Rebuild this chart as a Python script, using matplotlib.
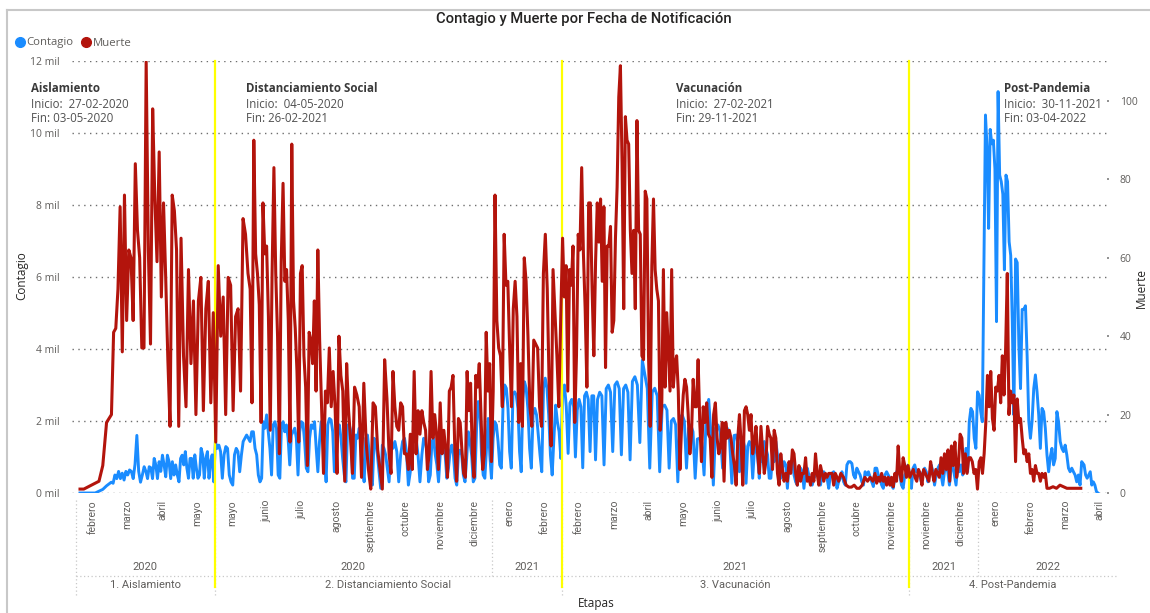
import numpy as np
import matplotlib
matplotlib.use("Agg")
import matplotlib.pyplot as plt
from matplotlib.lines import Line2D
from matplotlib.transforms import blended_transform_factory

plt.rcParams['font.family'] = ['Open Sans', 'DejaVu Sans']

# ---------------- categories (one band per etapa / year / month) ----------------
etapas = ["1. Aislamiento", "2. Distanciamiento Social", "3. Vacunación", "4. Post-Pandemia"]
band_etapa = [0] * 4 + [1] * 10 + [2] * 10 + [3] * 6
band_year = [2020] * 4 + [2020] * 8 + [2021] * 2 + [2021] * 10 + [2021] * 2 + [2022] * 4
band_month = ["febrero", "marzo", "abril", "mayo",
              "mayo", "junio", "julio", "agosto", "septiembre", "octubre", "noviembre",
              "diciembre", "enero", "febrero",
              "febrero", "marzo", "abril", "mayo", "junio", "julio", "agosto",
              "septiembre", "octubre", "noviembre",
              "noviembre", "diciembre", "enero", "febrero", "marzo", "abril"]

etapa_titles = ["Aislamiento", "Distanciamiento Social", "Vacunación", "Post-Pandemia"]
etapa_inicio = ["27-02-2020", "04-05-2020", "27-02-2021", "30-11-2021"]
etapa_fin = ["03-05-2020", "26-02-2021", "29-11-2021", "03-04-2022"]

# ---------------- Muerte (daily deaths, read per month band) ----------------
muerte_aislamiento = [
    [1, 1, 1.5, 2, 2.5, 3, 7, 18],
    [20, 41, 42, 52, 73, 36, 76, 44, 62, 60, 44, 84, 67, 60, 37, 37],
    [110, 62, 38, 98, 75, 59, 87, 50, 74, 55, 34, 17, 76, 72, 62, 17],
    [65, 35, 22, 57, 33, 49, 20, 49, 55, 21, 47, 54, 23, 46],
]
muerte_distanciamiento = [
    [13, 58, 40, 50, 20, 55, 53, 21, 45, 47, 26, 70, 66, 56],
    [52, 23, 90, 61, 56, 48, 18, 74, 61, 63, 45, 16, 56, 83, 56, 40, 10, 59, 79],
    [54, 57, 44, 13, 89, 49, 42, 31, 13, 56, 58, 35, 27, 7, 41, 39, 33, 49, 26, 62],
    [39, 22, 5, 26, 23, 37, 22, 31, 22, 5, 40, 30, 26, 3, 33, 21, 14, 5],
    [27, 25, 22, 4, 28, 13, 6, 1, 23, 22, 11, 6, 1, 34, 24],
    [10, 5, 31, 22, 17, 16, 23, 22, 10, 10, 6, 15, 6, 31, 10, 21, 15, 21],
    [18, 16, 6, 10, 31, 14, 20, 15, 6, 23, 10, 16, 11, 4, 26, 27, 30, 11, 3],
    [19, 18, 11, 5, 4, 31, 21, 28, 10, 4, 30, 27, 33, 20, 6, 10, 41, 26, 33, 8],
    [26, 76, 44, 37, 35, 22, 66, 53, 54, 37, 22, 47, 54, 45, 18, 33, 17, 60, 54],
    [40, 22, 17, 39, 38, 37, 22, 17, 56, 66, 52, 27, 12, 57, 46, 35, 22, 45],
]
muerte_vacunacion = [
    [65, 50, 58, 26, 57, 53, 63, 18, 35, 66, 62, 83, 61, 47, 27, 74, 74, 52, 35, 59],
    [74, 64, 75, 54, 73, 32, 63, 63, 68, 41, 44, 65, 78, 101, 109, 84, 47, 96, 90, 89, 67],
    [56, 67, 47, 95, 67, 66, 35, 34, 77, 75, 35, 17, 58, 75, 57, 52, 49, 16, 22, 57, 27],
    [46, 36, 26, 57, 27, 33, 35, 26, 6, 17, 25, 29, 27, 20, 10, 15, 29, 22, 22, 34, 18],
    [8, 22, 18, 23, 15, 14, 4, 20, 23, 14, 10, 12, 18, 3, 18, 14, 16, 14, 10, 7],
    [2, 14, 20, 13, 2, 21, 22, 20, 16, 20, 10, 13, 17, 10, 5, 17, 11, 5, 8, 17, 15],
    [14, 6, 16, 14, 5, 2, 10, 6, 3, 5, 3, 8, 5, 11, 10, 5, 2, 7, 3, 5, 5],
    [9, 3, 4, 2, 5, 3, 10, 5, 2, 7, 5, 3, 5, 4, 5, 5, 5, 2, 5, 4, 3],
    [5, 4, 2, 1.5, 1.5, 2, 1.2, 1.2, 2, 4, 3, 4, 3],
    [5, 2.5, 4, 3, 5, 3, 4, 2, 4, 2, 4, 1.6, 5, 3, 12, 5, 3, 9, 7, 4, 7],
]
muerte_post = [
    [4, 5, 6, 4, 3, 6, 5, 2, 6, 5, 4, 3, 8, 5, 3, 6, 5, 4, 9, 5],
    [10, 6, 11, 3, 12, 7, 13, 4, 7, 15, 14, 5, 10, 5, 9, 9, 8, 5, 6, 1],
    [8, 9, 5, 10, 18, 30, 22, 31, 19, 16, 27, 26, 30, 23, 35, 25, 37, 56, 20, 26, 23],
    [25, 8, 24, 18, 19, 14, 10, 11, 8, 10, 5, 6, 3, 7, 5, 5, 3, 5, 4, 5, 1.2],
    [1.2, 1.6, 1.2, 2, 1.6, 1.2, 1.2, 1.2, 1.2, 1.2],
    [],
]

# ---------------- Contagio (daily cases, thousands, read per month band) ----------------
contagio_aislamiento = [
    [0, 0, 0, 0, 0, 0.05, 0.1, 0.2],
    [0.3, 0.27, 0.5, 0.4, 0.6, 0.4, 0.55, 0.36, 0.6, 0.5, 0.64, 0.6, 0.4, 0.8, 1.6, 0.6, 0.3, 0.5, 0.73],
    [0.6, 0.4, 0.73, 0.7, 0.4, 0.96, 0.78, 0.4, 0.87, 0.6, 1.05, 0.78, 0.45, 1.05, 0.87, 0.4, 0.87, 0.5, 0.78, 0.5, 0.31],
    [0.96, 1.05, 0.78, 1.15, 0.69, 0.41, 0.96, 0.96, 0.41, 1.06, 0.69, 0.41, 0.5, 1.24, 1.06, 0.41, 0.96, 1.15, 0.41, 0.87, 1.06, 0.31],
]
contagio_distanciamiento = [
    [1.43, 1.24, 1.33, 1.15, 0.41, 1.06, 1.29, 1.24, 0.5, 0.31, 0.22, 1.06, 1.24, 1.15, 0.59, 1.06, 1.43, 1.52, 1.61, 1.52],
    [1.43, 1.7, 1.7, 1.24, 1.06, 0.5, 0.31, 0.41, 1.98, 1.8, 2.17, 1.7, 1.24, 0.5, 1.89, 1.98, 1.8, 0.5, 0.41, 1.89, 1.98],
    [1.7, 1.89, 1.52, 0.78, 1.61, 1.7, 1.8, 1.52, 0.5, 1.7, 1.98, 1.94, 1.43, 0.69, 0.59, 1.52, 1.89, 1.8, 1.98, 1.24, 0.59],
    [1.43, 1.98, 1.89, 0.96, 0.31, 1.89, 2.07, 2.03, 1.7, 0.59, 0.78, 1.8, 1.89, 1.52, 0.96, 0.5, 0.31, 1.89, 1.89, 1.7, 0.41],
    [0.41, 1.61, 1.52, 1.8, 1.61, 0.69, 0.31, 1.52, 1.61, 1.15, 0.31, 0.22, 1.52, 1.43, 1.06, 0.59, 0.13, 1.33, 1.24, 1.06, 0.69],
    [0.31, 1.33, 1.24, 1.43, 1.15, 0.31, 1.06, 1.43, 1.52, 1.15, 0.22, 0.59, 1.43, 1.61, 1.52, 1.06, 0.31, 1.06],
    [1.52, 1.43, 1.15, 0.31, 0.5, 1.43, 1.52, 1.06, 0.78, 0.31, 1.06, 1.33, 1.24, 1.06, 0.41, 0.69, 1.15, 1.33, 1.06, 0.41, 0.22],
    [1.06, 1.19, 1.06, 0.5, 0.31, 0.96, 1.7, 1.43, 1.06, 0.31, 0.41, 1.8, 2.54, 2.35, 1.06, 0.5, 0.41, 1.24, 2.07, 1.06, 0.41],
    [1.52, 1.98, 1.89, 1.43, 0.78, 0.69, 2.44, 3.0, 2.91, 2.35, 1.15, 0.69, 2.72, 2.81, 2.72, 2.35, 1.15, 0.59, 2.63, 3.09, 2.91],
    [2.35, 1.24, 0.69, 2.17, 2.35, 2.17, 1.61, 1.06, 0.59, 2.91, 3.19, 2.91, 2.17, 1.06, 0.5, 1.52, 2.44, 1.98, 1.7, 0.96],
]
contagio_vacunacion = [
    [2.9, 3.0, 2.4, 1.1, 2.5, 2.6, 2.4, 1.0, 2.3, 2.6, 2.4, 0.7, 2.7, 2.8, 2.6, 1.15, 2.7, 2.7, 0.92],
    [2.6, 2.8, 2.7, 0.78, 2.9, 3.0, 2.8, 1.15, 3.0, 3.09, 2.9, 1.06, 2.9, 3.0, 2.8, 0.92],
    [3.1, 3.23, 3.0, 1.4, 3.69, 3.3, 2.9, 0.69, 2.8, 2.91, 2.7, 0.59, 2.4, 2.44],
    [2.3, 0.69, 2.0, 2.07, 1.9, 0.31, 2.1, 2.17, 2.0, 0.69, 1.8, 1.89, 1.7, 0.41, 1.5, 1.52],
    [1.4, 0.5, 2.3, 2.6, 1.6, 0.22, 1.8, 1.89, 1.7, 0.69, 1.7, 1.8, 1.5, 0.27, 1.6],
    [1.61, 1.4, 0.59, 1.5, 1.52, 1.3, 0.27, 1.3, 1.43, 1.3, 0.41, 1.15, 1.43, 1.0, 0.41, 1.24, 0.87, 1.43, 1.24, 1.06, 0.41],
    [0.41, 1.06, 0.87, 1.43, 1.06, 0.69, 0.41, 0.69, 0.87, 0.78, 0.13, 0.78, 0.69, 0.96, 0.5, 0.31, 0.22, 0.59, 0.69, 0.59, 0.13],
    [0.59, 0.69, 0.5, 0.27, 0.22, 0.41, 0.5, 0.59, 0.5, 0.22, 0.5, 0.59, 0.5, 0.41, 0.13, 0.5, 0.55, 0.59, 0.5, 0.13, 0.31],
    [0.41, 0.59, 0.31, 0.22, 0.78, 0.87, 0.87, 0.82, 0.5, 0.41, 0.69, 0.59, 0.5, 0.31, 0.22, 0.59, 0.5, 0.59, 0.45, 0.31, 0.18],
    [0.69, 0.69, 0.5, 0.41, 0.22, 0.13, 0.5, 0.59, 0.5, 0.41, 0.22, 0.13, 0.41, 0.59, 0.59, 0.5, 0.22, 0.13, 0.5, 0.59, 0.78],
]
contagio_post = [
    [0.5, 0.13, 0.69, 0.78, 0.59, 0.59, 0.5, 0.31, 0.59, 0.69, 0.59, 0.31, 0.5, 0.78, 0.59, 0.22, 0.5, 0.69, 0.78, 0.5, 0.22],
    [0.59, 0.78, 0.59, 0.22, 0.69, 0.78, 0.5, 0.22, 0.78, 0.59, 0.78, 0.5, 0.69, 1.24, 0.59, 1.98, 2.35, 2.26, 1.52, 1.24, 2.81],
    [2.72, 2.26, 1.98, 6.15, 10.5, 9.6, 7.35, 10.1, 9.7, 9.8, 9.0, 4.76, 11.15, 8.83, 8.65, 8.3, 6.2, 8.83, 8.65, 6.98, 6.6, 4.76],
    [2.17, 6.5, 6.4, 4.1, 2.9, 5.1, 5.1, 5.2, 3.8, 2.0, 1.52, 2.0, 2.9, 3.28, 2.81, 2.17, 1.24, 2.35, 2.26, 1.8, 1.06],
    [0.59, 1.0, 1.24, 0.78, 0.96, 2.26, 1.98, 1.43, 1.24, 1.15, 1.33, 1.06, 0.69, 0.59, 0.69, 0.59, 0.5, 0.31, 0.5, 0.22, 0.87],
    [0.78, 0.5, 0.41, 0.5, 0.59, 0.22, 0.31, 0.22, 0.04, 0.0],
]

# ---------------- layout constants ----------------
W, H, DPI = 1150, 613, 100
BLUE = "#1A8CFF"
RED = "#B3140C"
YELLOW = "#FFFF00"
GRAY = "#605E5C"
DARK = "#252423"
SEP = "#C8C8C8"
DATA_START = -0.374   # first notification lies a little inside the first band
DATA_END = 28.945     # last notification lies inside the last band
DIN = ['Roboto', 'DejaVu Sans']


def fx(px):
    return px / W


def fy(py):
    return 1 - py / H


def build(bands, start=None, end=None):
    xs, ys = [], []
    last = max(i for i, b in enumerate(bands) if len(b))
    for i, vals in enumerate(bands):
        n = len(vals)
        if n == 0:
            continue
        if i == 0 and start is not None:
            p = start + (i + 0.5 - start) * np.arange(n) / n
        elif i == last and end is not None:
            p = (i - 0.5) + (end - (i - 0.5)) * (np.arange(n) + 1) / n
        else:
            p = i - 0.5 + (np.arange(n) + 0.5) / n
        xs.extend(p)
        ys.extend(vals)
    return np.array(xs), np.array(ys, dtype=float)


muerte_bands = muerte_aislamiento + muerte_distanciamiento + muerte_vacunacion + muerte_post
contagio_bands = contagio_aislamiento + contagio_distanciamiento + contagio_vacunacion + contagio_post
xm, ym = build(muerte_bands, DATA_START, None)
xc, yc = build(contagio_bands, DATA_START, DATA_END)

fig = plt.figure(figsize=(W / DPI, H / DPI), dpi=DPI)
ax = fig.add_axes([fx(72), fy(493), fx(1107) - fx(72), fy(61) - fy(493)])
ax2 = ax.twinx()

x0, dx = 93, 34.72
ax.set_xlim((72 - x0) / dx, (1107 - x0) / dx)
ax.set_ylim(0, 12)
ax2.set_ylim(0, 110.2)

ax.plot(xc, yc, color=BLUE, lw=2.1, solid_joinstyle='round', zorder=3)
ax2.plot(xm, ym, color=RED, lw=2.2, solid_joinstyle='round', zorder=3)

# grid
yt = np.arange(0, 13, 2)
ax.set_yticks(yt)
ax.set_yticklabels([f"{v} mil" for v in yt], fontsize=7.5, color=GRAY)
ax.tick_params(axis='y', length=0, pad=9)
for v in yt:
    ax.axhline(v, color="#6E6E6E", lw=1.0, ls=(0, (1, 3.2)), zorder=1)

ax2.set_yticks(np.arange(0, 101, 20))
ax2.set_yticklabels([str(v) for v in range(0, 101, 20)], fontsize=7.5, color=GRAY)
ax2.tick_params(axis='y', length=1.2, width=1.3, color="#888888", pad=8)

for a in (ax, ax2):
    for s in a.spines.values():
        s.set_visible(False)

# x axis months
ax.set_xticks(range(len(band_month)))
ax.set_xticklabels(band_month, rotation=90, fontsize=7.5, color=GRAY, va='top', family=DIN)
ax.tick_params(axis='x', length=0, pad=5)

tr = blended_transform_factory(ax.transData, ax.transAxes)
ppx = 432.0  # axes height in px


def ya(py):
    return (493 - py) / ppx


# year groups and etapa groups
groups = []
start = 0
for i in range(1, len(band_month) + 1):
    if i == len(band_month) or band_year[i] != band_year[start] or band_etapa[i] != band_etapa[start]:
        groups.append((start, i - 1, band_year[start]))
        start = i
for a, b, yr in groups:
    ax.text((a + b) / 2, ya(567), str(yr), transform=tr, ha='center', va='center',
            fontsize=8, color=GRAY, family=DIN, clip_on=False)

for e, name in enumerate(etapas):
    idx = [i for i, v in enumerate(band_etapa) if v == e]
    ax.text((idx[0] + idx[-1]) / 2, ya(585), name, transform=tr, ha='center', va='center',
            fontsize=8, color=GRAY, family=DIN, clip_on=False)

# separators
dotted = (0, (1, 2))
ax.add_line(Line2D([-0.5, -0.5], [ya(500), ya(596)], transform=tr, color=SEP, lw=0.9, ls=dotted, clip_on=False))
ax.add_line(Line2D([-0.5, 29.5], [ya(576), ya(576)], transform=tr, color=SEP, lw=0.9, ls=dotted, clip_on=False))
for a, b, yr in groups[:-1]:
    etapa_change = band_etapa[b + 1] != band_etapa[b]
    y_lo = ya(596) if etapa_change else ya(576)
    ax.add_line(Line2D([b + 0.5, b + 0.5], [ya(500), y_lo], transform=tr, color=SEP, lw=0.9,
                       ls=dotted, clip_on=False))

# yellow etapa boundaries
for i in range(1, len(band_etapa)):
    if band_etapa[i] != band_etapa[i - 1]:
        ax.add_line(Line2D([i - 0.5, i - 0.5], [ya(587), 1.0], transform=tr, color=YELLOW,
                           lw=1.6, clip_on=False, zorder=4))

# etapa annotations
ann_x = [31, 246, 676, 1004]
for xpx, t, ini, fin in zip(ann_x, etapa_titles, etapa_inicio, etapa_fin):
    fig.text(fx(xpx), fy(89), t, fontsize=8.3, fontweight='bold', color="#3A3A3A", ha='left', va='center')
    fig.text(fx(xpx), fy(104), f"Inicio:  {ini}", fontsize=8.3, color="#505050", ha='left', va='center')
    fig.text(fx(xpx), fy(119), f"Fin: {fin}", fontsize=8.3, color="#505050", ha='left', va='center')

# title, legend, axis titles
fig.text(fx(584), fy(19), "Contagio y Muerte por Fecha de Notificación", ha='center', va='center',
         fontsize=10.6, fontweight='medium', color=DARK, family=DIN)
handles = [Line2D([], [], marker='o', ls='', color=BLUE, markersize=7),
           Line2D([], [], marker='o', ls='', color=RED, markersize=7)]
fig.legend(handles, ["Contagio", "Muerte"], loc='center left', bbox_to_anchor=(fx(7), fy(43)),
           ncol=2, frameon=False, handletextpad=0.0, columnspacing=0.5, fontsize=8.2,
           labelcolor=GRAY, borderpad=0, handlelength=1.2)
fig.text(fx(22), fy(276), "Contagio", rotation=90, ha='center', va='center', fontsize=8.5, color=DARK)
fig.text(fx(1141), fy(288), "Muerte", rotation=90, ha='center', va='center', fontsize=8.5, color=DARK)
fig.text(fx(596), fy(604), "Etapas", ha='center', va='center', fontsize=8.5, color=DARK)

# outer frame
fig.add_artist(Line2D([fx(7), fx(7)], [fy(10), 0], transform=fig.transFigure, color=SEP, lw=1.5))
fig.add_artist(Line2D([fx(7), 1], [fy(10), fy(10)], transform=fig.transFigure, color=SEP, lw=1.5))

fig.savefig("out.png", dpi=DPI)
